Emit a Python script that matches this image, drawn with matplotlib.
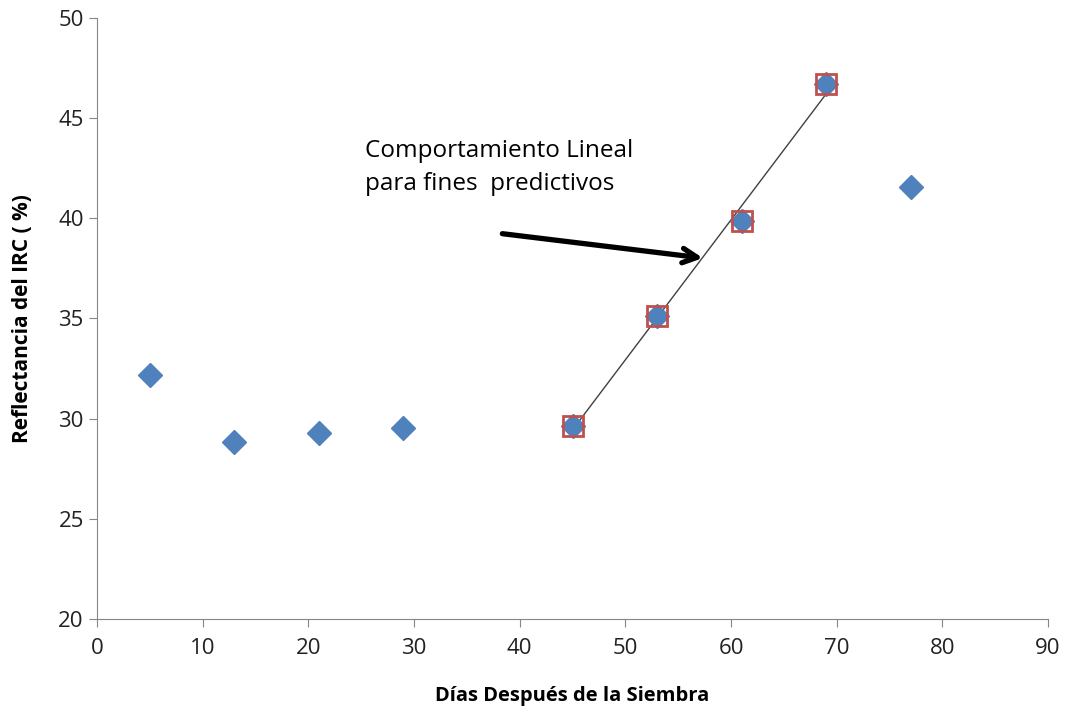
import numpy as np
import matplotlib.pyplot as plt

# data
dias = [5, 13, 21, 29, 45, 53, 61, 69, 77]
reflectancia = [32.2, 28.85, 29.3, 29.55, 29.65, 35.1, 39.85, 46.7, 41.55]

dias_lineal = [45, 53, 61, 69]
refl_lineal = [29.65, 35.1, 39.85, 46.7]

x_ticks = [0, 10, 20, 30, 40, 50, 60, 70, 80, 90]
y_ticks = [20, 25, 30, 35, 40, 45, 50]

plt.rcParams['font.family'] = ['Open Sans', 'DejaVu Sans']

fig = plt.figure(figsize=(10.68, 7.09), dpi=100)
ax = fig.add_axes([0.0908, 0.127, 0.8905, 0.8476])

ax.plot(dias, reflectancia, linestyle='none', marker='D', ms=12,
        color='#4F81BD', mec='#4F81BD', zorder=3)

# linear fit over the predictive segment
m, b = np.polyfit(dias_lineal, refl_lineal, 1)
xs = np.array([dias_lineal[0], dias_lineal[-1]])
ax.plot(xs, m * xs + b, color='#404040', lw=1.0, zorder=2)

ax.plot(dias_lineal, refl_lineal, linestyle='none', marker='s', ms=15,
        mfc='none', mec='#C0504D', mew=2, zorder=4)

ax.annotate('', xy=(57.6, 38.0), xytext=(38.1, 39.25),
            arrowprops=dict(arrowstyle='->', lw=3.8, color='black',
                            mutation_scale=26))
ax.text(25.4, 43.95, 'Comportamiento Lineal\npara fines  predictivos',
        fontsize=17.5, va='top', ha='left', linespacing=1.5)

ax.set_xlim(0, 90)
ax.set_ylim(20, 50)
ax.set_xticks(x_ticks)
ax.set_yticks(y_ticks)
ax.tick_params(labelsize=16, color='#868686', length=6, labelcolor='#222222')
ax.tick_params(axis='x', pad=8)
for s in ['top', 'right']:
    ax.spines[s].set_visible(False)
for s in ['left', 'bottom']:
    ax.spines[s].set_color('#868686')

ax.set_xlabel('Días Después de la Siembra', fontsize=14.5, fontweight='bold', labelpad=19)
ax.set_ylabel('Reflectancia del IRC ( %)', fontsize=15, fontweight='bold', labelpad=18)

fig.savefig('out.png', dpi=100)
